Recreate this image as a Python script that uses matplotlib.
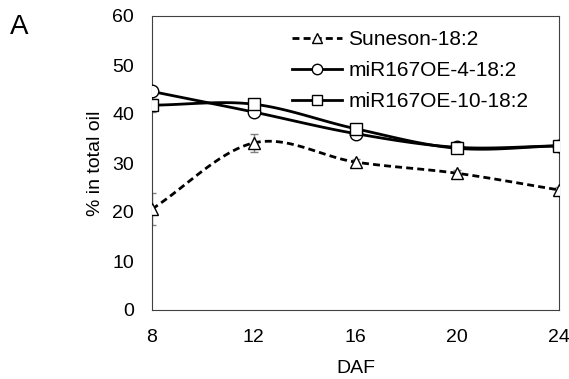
import numpy as np
import matplotlib.pyplot as plt

plt.rcParams["font.family"] = ["Liberation Sans", "DejaVu Sans"]

daf = [8, 12, 16, 20, 24]
suneson = [20.6, 34.1, 30.2, 27.9, 24.5]
suneson_err = [3.2, 1.8, 0.6, 0.6, 0.6]
oe4 = [44.6, 40.4, 36.0, 33.2, 33.5]
oe4_err = [0.4, 0.5, 0.4, 0.3, 0.3]
oe10 = [41.8, 42.0, 37.0, 33.0, 33.5]
oe10_err = [1.3, 0.5, 0.4, 0.3, 0.3]
labels = ["Suneson-18:2", "miR167OE-4-18:2", "miR167OE-10-18:2"]


def smooth(x, y, n=30):
    # excel-like smoothed line (catmull-rom through the points)
    x = np.asarray(x, float); y = np.asarray(y, float)
    px = np.concatenate([[2*x[0]-x[1]], x, [2*x[-1]-x[-2]]])
    py = np.concatenate([[2*y[0]-y[1]], y, [2*y[-1]-y[-2]]])
    xs, ys = [], []
    t = np.linspace(0, 1, n)
    for i in range(1, len(px)-2):
        for p, out in ((px, xs), (py, ys)):
            p0, p1, p2, p3 = p[i-1], p[i], p[i+1], p[i+2]
            out.extend(0.5*((2*p1) + (-p0+p2)*t + (2*p0-5*p1+4*p2-p3)*t**2
                            + (-p0+3*p1-3*p2+p3)*t**3))
    return xs, ys


fig = plt.figure(figsize=(5.69, 3.79), dpi=100)
ax = fig.add_axes([152/569, 1-310/379, (559-152)/569, (310-16)/379])

series = [(suneson, suneson_err, "^", (0, (2.5, 1.5))), (oe4, oe4_err, "o", "-"), (oe10, oe10_err, "s", "-")]
for (vals, err, m, ls), lab in zip(series, labels):
    ax.errorbar(daf, vals, yerr=err, fmt="none", ecolor="#808080", elinewidth=1, capsize=3, zorder=2)
    sx, sy = smooth(daf, vals)
    ax.plot(sx, sy, color="black", lw=2, ls=ls, zorder=3)
    ax.plot(daf, vals, ls="none", marker=m, ms=9, mfc="white", mec="black", mew=1, zorder=4)
    ax.plot([], [], color="black", lw=2, ls=ls, marker=m, ms=7.5, mfc="white", mec="black", mew=1, label=lab)

ax.set_xlim(8, 24)
ax.set_ylim(0, 60)
ax.set_xticks(daf)
ax.set_yticks(range(0, 61, 10))
ax.tick_params(length=0, labelsize=14)
ax.tick_params(axis="x", pad=14)
ax.tick_params(axis="y", pad=13)
for s in ax.spines.values():
    s.set_color("#404040")
ax.set_xlabel("DAF", fontsize=14, labelpad=10)
ax.set_ylabel("% in total oil", fontsize=14, labelpad=6)
ax.legend(loc="upper left", frameon=False, fontsize=15, handlelength=2.4,
          handletextpad=0.3, labelspacing=0.58, borderpad=0, borderaxespad=0,
          bbox_to_anchor=(292/569, 1-30/379), bbox_transform=fig.transFigure)
fig.text(10/569, 1-27/379, "A", fontsize=20, va="center")

fig.savefig("out.png", dpi=100)
